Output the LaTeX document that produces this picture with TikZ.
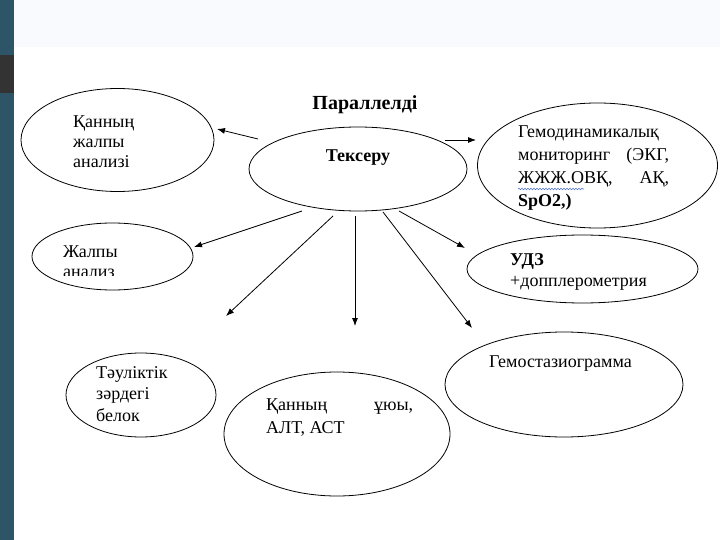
\documentclass[tikz,border=0pt]{standalone}
\usepackage{fontspec}
\setmainfont{Liberation Serif}
\usetikzlibrary{shapes.geometric,arrows.meta,decorations.pathmorphing}
\definecolor{barteal}{HTML}{2E5468}
\definecolor{bargray}{HTML}{333333}
\definecolor{bandcol}{HTML}{F8FAFD}
\definecolor{spellblue}{HTML}{5577CC}
\begin{document}
\begin{tikzpicture}[x=1pt,y=-1pt,
  oval/.style={ellipse,draw=black,line width=0.8pt,inner sep=0pt},
  txt/.style={anchor=base west,inner sep=0pt,font=\fontsize{18}{20}\selectfont},
  btxt/.style={anchor=base,inner sep=0pt,font=\fontsize{18}{20}\selectfont\bfseries},
  arr/.style={-{Latex[length=8pt,width=6pt]},line width=0.8pt}]
\useasboundingbox (0,0) rectangle (720,540);
\fill[white] (0,0) rectangle (720,540);
\fill[bandcol] (14,0) rectangle (720,47);
\fill[barteal] (0,0) rectangle (14,540);
\fill[bargray] (0,55) rectangle (14,93);

% ellipses
\node[oval,minimum width=193pt,minimum height=103pt] (e1) at (117.5,140) {};
\node[oval,minimum width=218pt,minimum height=84pt] (tex) at (358,169) {};
\node[oval,minimum width=240pt,minimum height=125pt] (gem) at (597.5,165.5) {};
\node[oval,minimum width=161pt,minimum height=67pt] (zh) at (112.5,256.5) {};
\node[oval,minimum width=231pt,minimum height=68pt] (udz) at (582.5,269) {};
\node[oval,minimum width=150pt,minimum height=84pt] (tau) at (141,395) {};
\node[oval,minimum width=226pt,minimum height=124pt] (uyu) at (337,434) {};
\node[oval,minimum width=238pt,minimum height=105pt] (gst) at (564,384.5) {};

% title
\node[btxt,font=\fontsize{20}{22}\selectfont\bfseries] (par) at (365,110) {Параллелді};
\node[btxt] (texl) at (358,162) {Тексеру};

% texts
\node[txt] (a1) at (73,128) {Қанның};
\node[txt] (a2) at (73,148) {жалпы};
\node[txt] (a3) at (73,168) {анализі};

\node[txt] (g1) at (518,138) {Гемодинамикалық};
\node[txt] (g2) at (518,161) {\hbox to 151pt{мониторинг\hfill(ЭКГ,}};
\node[txt] (g3) at (518,184) {\hbox to 151pt{ЖЖЖ.ОВҚ,\hfill АҚ,}};
\node[txt,font=\fontsize{18}{20}\selectfont\bfseries] (g4) at (518,207) {SpO2,)};
\coordinate (w1) at (518,189);
\coordinate (w2) at (584,189);
\draw[spellblue,line width=0.6pt,decorate,decoration={snake,amplitude=0.8pt,segment length=3pt}] (w1) -- (w2);

\node[txt] (j1) at (63,257) {Жалпы};
\begin{scope}
\clip (40,260) rectangle (190,275.5);
\node[txt] (j2) at (63,277) {анализ};
\end{scope}

\node[txt,font=\fontsize{18}{20}\selectfont\bfseries] (u1) at (510,265) {УДЗ};
\node[txt] (u2) at (510,286) {+допплерометрия};

\node[txt] (t1) at (96,378) {Тәуліктік};
\node[txt] (t2) at (96,399) {зәрдегі};
\node[txt] (t3) at (96,421) {белок};

\node[txt] (k1) at (266,410) {\hbox to 147pt{Қанның\hfill ұюы,}};
\node[txt] (k2) at (266,433) {АЛТ, АСТ};

\node[txt] (s1) at (489,367) {Гемостазиограмма};

% arrows
\coordinate (s1a) at (258,139); \coordinate (e1a) at (217,129);
\coordinate (s2a) at (445,140); \coordinate (e2a) at (476,140);
\coordinate (s3a) at (302,211); \coordinate (e3a) at (194,247);
\coordinate (s4a) at (333,216); \coordinate (e4a) at (226,316);
\coordinate (s5a) at (355,216); \coordinate (e5a) at (355,326);
\coordinate (s6a) at (383,212); \coordinate (e6a) at (472,328);
\coordinate (s7a) at (399,211); \coordinate (e7a) at (465,248);
\draw[arr] (s1a) -- (e1a);
\draw[arr] (s2a) -- (e2a);
\draw[arr] (s3a) -- (e3a);
\draw[arr] (s4a) -- (e4a);
\draw[arr] (s5a) -- (e5a);
\draw[arr] (s6a) -- (e6a);
\draw[arr] (s7a) -- (e7a);
\end{tikzpicture}
\end{document}
